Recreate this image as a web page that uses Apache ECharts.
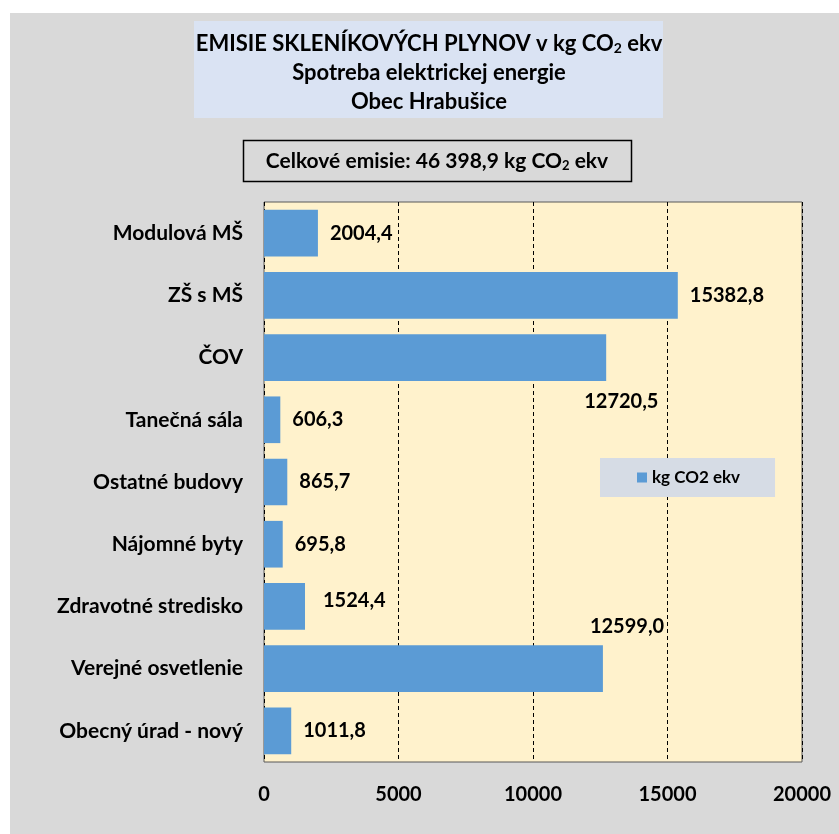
<!DOCTYPE html>
<html>
<head>
<meta charset="utf-8">
<script src="https://cdn.jsdelivr.net/npm/echarts@6/dist/echarts.min.js"></script>
<style>
  html, body { margin: 0; padding: 0; background: #fff; }
  #chart {
    width: 839px; height: 834px;
    background: linear-gradient(#d9d9d9, #d9d9d9) 10px 13px / 100% 100% no-repeat, #fff;
  }
</style>
</head>
<body>
<div id="chart"></div>
<script>
// data
const categories = ['Modulová MŠ', 'ZŠ s MŠ', 'ČOV', 'Tanečná sála', 'Ostatné budovy',
  'Nájomné byty', 'Zdravotné stredisko', 'Verejné osvetlenie', 'Obecný úrad - nový'];
const emissions = [2004.4, 15382.8, 12720.5, 606.3, 865.7, 695.8, 1524.4, 12599.0, 1011.8];
const xTicks = [0, 5000, 10000, 15000, 20000];
const seriesName = 'kg CO2 ekv';

const FONT = 'Lato';
const fmt = v => v.toFixed(1).replace('.', ',');

// a few labels were moved by hand in the original
const labelTweaks = {
  'ČOV': { offset: [-34, 44] },
  'Verejné osvetlenie': { offset: [-25, -42] },
  'Zdravotné stredisko': { offset: [6, -6] }
};

const chart = echarts.init(document.getElementById('chart'), null, { renderer: 'canvas' });

const barData = emissions.map((v, i) => {
  const t = labelTweaks[categories[i]];
  return t ? { value: v, label: t } : v;
});

chart.setOption({
  backgroundColor: 'transparent',
  textStyle: { fontFamily: FONT },
  animation: false,
  graphic: [
    {
      type: 'rect', shape: { x: 194, y: 21, width: 469, height: 97 },
      style: { fill: '#dae3f3' }
    },
    {
      type: 'text', x: 429, y: 44,
      style: {
        text: '{b|EMISIE SKLENÍKOVÝCH PLYNOV v kg CO}{s|2}{b| ekv}',
        align: 'center', verticalAlign: 'middle',
        rich: {
          b: { fontFamily: FONT, fontWeight: 'bold', fontSize: 22, fill: '#000' },
          s: { fontFamily: FONT, fontWeight: 'bold', fontSize: 14, fill: '#000', padding: [9, 0, 0, 0] }
        }
      }
    },
    {
      type: 'text', x: 429, y: 73,
      style: { text: 'Spotreba elektrickej energie', align: 'center', verticalAlign: 'middle',
        fontFamily: FONT, fontWeight: 'bold', fontSize: 22, fill: '#000' }
    },
    {
      type: 'text', x: 429, y: 102,
      style: { text: 'Obec Hrabušice', align: 'center', verticalAlign: 'middle',
        fontFamily: FONT, fontWeight: 'bold', fontSize: 22, fill: '#000' }
    },
    {
      type: 'rect', shape: { x: 243.5, y: 140.5, width: 388, height: 41 },
      style: { fill: '#d9d9d9', stroke: '#000', lineWidth: 1.5 }
    },
    {
      type: 'text', x: 437, y: 161,
      style: {
        text: '{b|Celkové emisie: 46 398,9 kg CO}{s|2}{b| ekv}',
        align: 'center', verticalAlign: 'middle',
        rich: {
          b: { fontFamily: FONT, fontWeight: 'bold', fontSize: 21, fill: '#000' },
          s: { fontFamily: FONT, fontWeight: 'bold', fontSize: 13, fill: '#000', padding: [9, 0, 0, 0] }
        }
      }
    }
  ],
  legend: {
    left: 600, top: 458,
    backgroundColor: '#d6dce5',
    padding: [11, 35, 11, 37],
    itemWidth: 10, itemHeight: 10, itemGap: 5,
    icon: 'rect',
    textStyle: { fontFamily: FONT, fontWeight: 'bold', fontSize: 17, color: '#000' },
    data: [seriesName]
  },
  grid: {
    left: 264, right: 37, top: 202, bottom: 72,
    show: true, backgroundColor: '#fff2cc', borderColor: '#595959', borderWidth: 1
  },
  xAxis: {
    type: 'value', min: xTicks[0], max: xTicks[xTicks.length - 1],
    interval: xTicks[1] - xTicks[0],
    axisLine: { show: false }, axisTick: { show: false },
    splitLine: { show: true, lineStyle: { color: '#000', type: [4, 3], width: 1 } },
    axisLabel: { margin: 23, fontFamily: FONT, fontWeight: 'bold', fontSize: 20, color: '#000',
      formatter: v => String(v) }
  },
  yAxis: {
    type: 'category', data: categories, inverse: true,
    axisLine: { show: false }, axisTick: { show: false },
    axisLabel: { margin: 21, fontFamily: FONT, fontWeight: 'bold', fontSize: 21, color: '#000' }
  },
  series: [{
    name: seriesName, type: 'bar', data: barData,
    barCategoryGap: '25%',
    itemStyle: { color: '#5b9bd5' },
    label: {
      show: true, position: 'right', distance: 12,
      fontFamily: FONT, fontWeight: 'bold', fontSize: 20, color: '#000',
      formatter: p => fmt(p.value)
    }
  }]
});
</script>
</body>
</html>
